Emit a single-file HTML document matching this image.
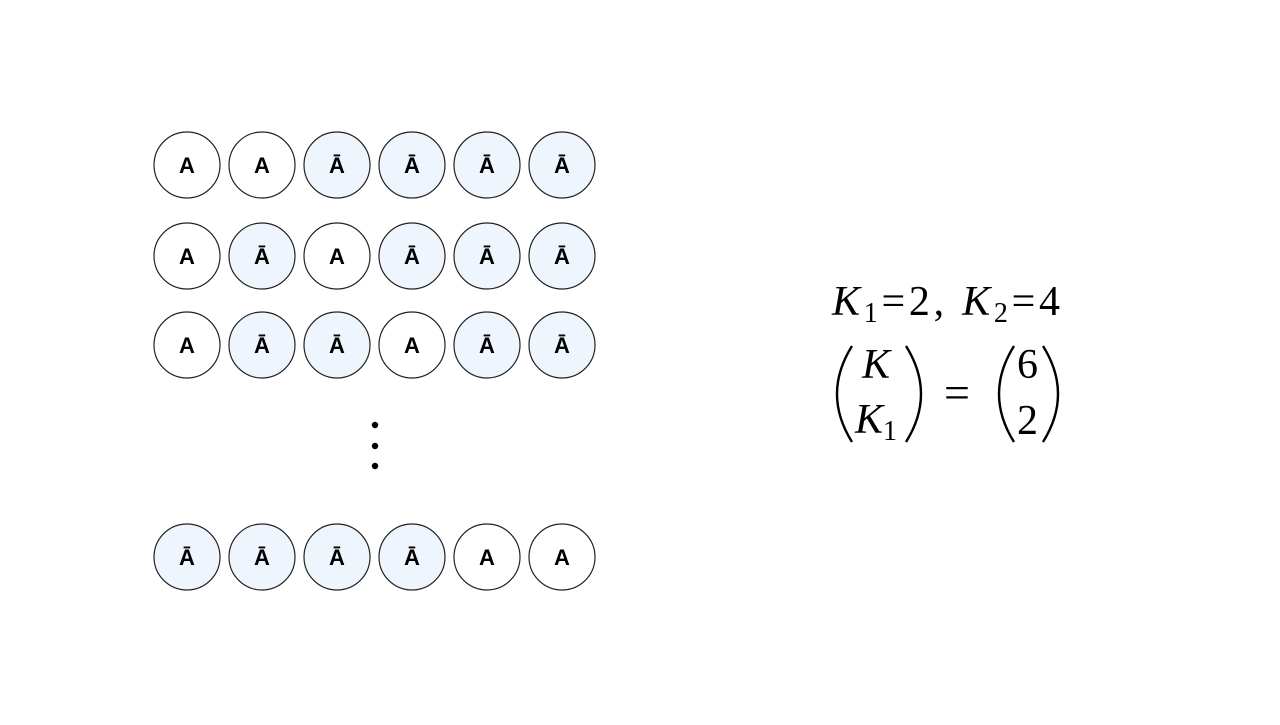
<!DOCTYPE html>
<html><head><style>body{margin:0;background:#fff}</style></head><body>
<svg width="1280" height="720" xmlns="http://www.w3.org/2000/svg" font-family="Liberation Sans, sans-serif">
<rect width="1280" height="720" fill="#fff"/>
<g stroke="#222" stroke-width="1.2">
<circle cx="187" cy="165" r="33" fill="#fff"/><circle cx="262" cy="165" r="33" fill="#fff"/>
<circle cx="337" cy="165" r="33" fill="#eff5fd"/><circle cx="412" cy="165" r="33" fill="#eff5fd"/>
<circle cx="487" cy="165" r="33" fill="#eff5fd"/><circle cx="562" cy="165" r="33" fill="#eff5fd"/>
<circle cx="187" cy="256" r="33" fill="#fff"/><circle cx="262" cy="256" r="33" fill="#eff5fd"/>
<circle cx="337" cy="256" r="33" fill="#fff"/><circle cx="412" cy="256" r="33" fill="#eff5fd"/>
<circle cx="487" cy="256" r="33" fill="#eff5fd"/><circle cx="562" cy="256" r="33" fill="#eff5fd"/>
<circle cx="187" cy="345" r="33" fill="#fff"/><circle cx="262" cy="345" r="33" fill="#eff5fd"/>
<circle cx="337" cy="345" r="33" fill="#eff5fd"/><circle cx="412" cy="345" r="33" fill="#fff"/>
<circle cx="487" cy="345" r="33" fill="#eff5fd"/><circle cx="562" cy="345" r="33" fill="#eff5fd"/>
<circle cx="187" cy="557" r="33" fill="#eff5fd"/><circle cx="262" cy="557" r="33" fill="#eff5fd"/>
<circle cx="337" cy="557" r="33" fill="#eff5fd"/><circle cx="412" cy="557" r="33" fill="#eff5fd"/>
<circle cx="487" cy="557" r="33" fill="#fff"/><circle cx="562" cy="557" r="33" fill="#fff"/>
</g>
<g font-weight="bold" font-size="22" text-anchor="middle" fill="#000">
<text x="187" y="173">A</text><text x="262" y="173">A</text><text x="337" y="173">Ā</text><text x="412" y="173">Ā</text><text x="487" y="173">Ā</text><text x="562" y="173">Ā</text>
<text x="187" y="264">A</text><text x="262" y="264">Ā</text><text x="337" y="264">A</text><text x="412" y="264">Ā</text><text x="487" y="264">Ā</text><text x="562" y="264">Ā</text>
<text x="187" y="353">A</text><text x="262" y="353">Ā</text><text x="337" y="353">Ā</text><text x="412" y="353">A</text><text x="487" y="353">Ā</text><text x="562" y="353">Ā</text>
<text x="187" y="565">Ā</text><text x="262" y="565">Ā</text><text x="337" y="565">Ā</text><text x="412" y="565">Ā</text><text x="487" y="565">A</text><text x="562" y="565">A</text>
</g>
<circle cx="375" cy="425" r="3.2"/><circle cx="375" cy="446" r="3.2"/><circle cx="375" cy="466" r="3.2"/>
<g font-family="Liberation Serif, serif" font-size="42" fill="#000">
<text x="832" y="315" textLength="228" lengthAdjust="spacing"><tspan font-style="italic">K</tspan><tspan font-size="28" dy="7">1</tspan><tspan dy="-7">=2, </tspan><tspan font-style="italic">K</tspan><tspan font-size="28" dy="7">2</tspan><tspan dy="-7">=4</tspan></text>
<text x="862" y="378" font-style="italic">K</text>
<text x="855" y="433"><tspan font-style="italic">K</tspan><tspan font-size="28" dy="7">1</tspan></text>
<text x="944" y="408" font-size="46">=</text>
<text x="1017" y="378">6</text>
<text x="1017" y="434">2</text>
</g>
<g fill="none" stroke="#000" stroke-width="2.4">
<path d="M852 346 Q822 394 852 442"/>
<path d="M906 346 Q936 394 906 442"/>
<path d="M1014 346 Q984 394 1014 442"/>
<path d="M1043 346 Q1073 394 1043 442"/>
</g>
</svg>
</body></html>
